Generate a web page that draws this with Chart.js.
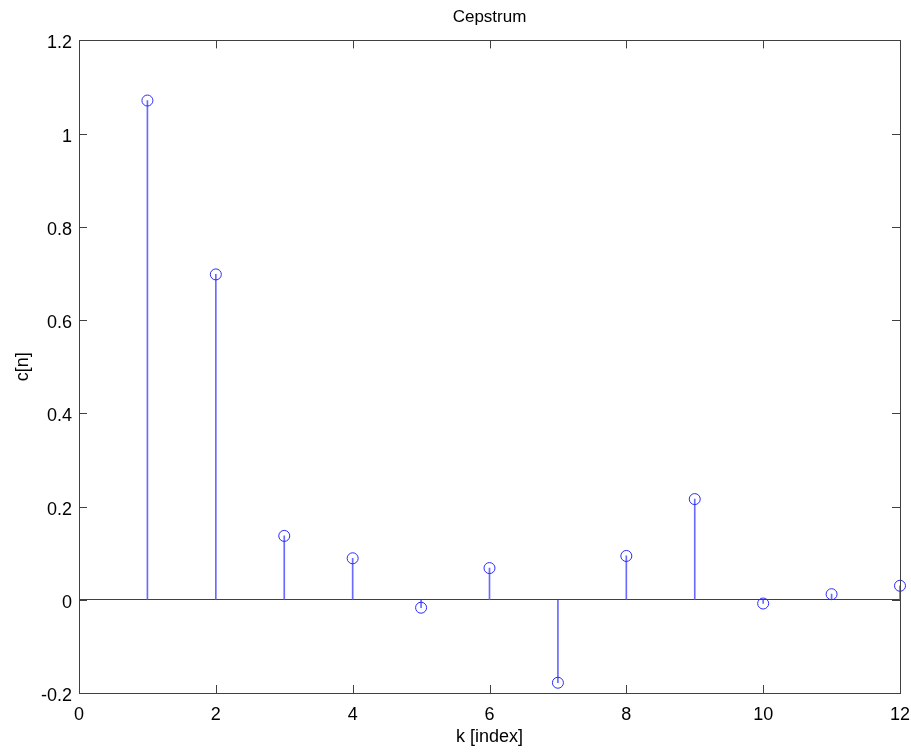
<!DOCTYPE html>
<html>
<head>
<meta charset="utf-8">
<title>Cepstrum</title>
<script src="https://cdn.jsdelivr.net/npm/chart.js@4/dist/chart.umd.min.js"></script>
<style>
  html, body { margin: 0; padding: 0; background: #fff; }
  #wrap { width: 911px; height: 754px; }
</style>
</head>
<body>
<div id="wrap"><canvas id="myChart1" width="911" height="754"></canvas></div>
<script>
// stem values
const k_index = [1, 2, 3, 4, 5, 6, 7, 8, 9, 10, 11, 12];
const c_values = [1.071, 0.698, 0.137, 0.089, -0.017, 0.068, -0.178, 0.094, 0.216, -0.008, 0.012, 0.030];
const x_ticks = [0, 2, 4, 6, 8, 10, 12];
const y_ticks = [-0.2, 0, 0.2, 0.4, 0.6, 0.8, 1, 1.2];

const axisColor = '#404040';
const font = 'Liberation Sans, Arial, Helvetica, sans-serif';

let points = [];
k_index.forEach((k, i) => {
    points.push({x: k, y: c_values[i]});
});

// matlab style box with inward ticks on all four sides
const boxTicks = {
    id: 'boxTicks',
    afterDatasetsDraw(chart) {
        const {ctx, chartArea: a, scales} = chart;
        const len = 8;
        ctx.save();
        ctx.strokeStyle = axisColor;
        ctx.lineWidth = 1;
        ctx.beginPath();
        x_ticks.forEach(v => {
            const px = Math.round(scales.x.getPixelForValue(v)) + 0.5;
            ctx.moveTo(px, a.bottom); ctx.lineTo(px, a.bottom - len);
            ctx.moveTo(px, a.top); ctx.lineTo(px, a.top + len);
        });
        y_ticks.forEach(v => {
            const py = Math.round(scales.y.getPixelForValue(v)) + 0.5;
            ctx.moveTo(a.left, py); ctx.lineTo(a.left + len, py);
            ctx.moveTo(a.right, py); ctx.lineTo(a.right - len, py);
        });
        ctx.stroke();
        ctx.strokeRect(Math.round(a.left) + 0.5, Math.round(a.top) + 0.5,
            Math.round(a.right - a.left), Math.round(a.bottom - a.top));
        ctx.restore();
    }
};

var ctx = document.getElementById('myChart1').getContext('2d');
var cep_chart = new Chart(ctx, {
    data: {
        datasets: [
            {
                type: 'scatter',
                data: points,
                showLine: false,
                clip: false,
                pointStyle: 'circle',
                pointRadius: 5.5,
                pointHoverRadius: 5.5,
                pointBorderWidth: 1,
                pointBorderColor: '#2a2aff',
                pointBackgroundColor: 'rgba(0,0,0,0)',
                order: 0
            },
            {
                type: 'bar',
                data: points,
                barThickness: 1,
                backgroundColor: '#6a6aff',
                borderWidth: 0,
                order: 1
            }
        ]
    },
    options: {
        responsive: false,
        animation: false,
        events: [],
        layout: { padding: 0 },
        plugins: {
            legend: { display: false },
            tooltip: { enabled: false },
            title: {
                display: true,
                text: 'Cepstrum',
                fullSize: false,
                color: '#000',
                font: { family: font, size: 17, weight: 'normal' },
                padding: { top: 7, bottom: 13 }
            }
        },
        scales: {
            x: {
                type: 'linear',
                min: 0,
                max: 12,
                offset: false,
                afterBuildTicks: scale => { scale.ticks = x_ticks.map(v => ({value: v})); },
                afterFit: scale => {
                    scale.height = 61;
                    scale.paddingLeft = 0;
                    scale.paddingRight = 11;
                },
                grid: { display: false, drawTicks: false, offset: false },
                border: { display: false },
                ticks: {
                    color: '#000',
                    padding: 11,
                    maxRotation: 0,
                    font: { family: font, size: 18 }
                },
                title: {
                    display: true,
                    text: 'k [index]',
                    color: '#000',
                    font: { family: font, size: 18 },
                    padding: { top: 0, bottom: 6 }
                }
            },
            y: {
                type: 'linear',
                min: -0.2,
                max: 1.2,
                afterBuildTicks: scale => { scale.ticks = y_ticks.map(v => ({value: v})); },
                afterFit: scale => { scale.width = 79; },
                grid: {
                    drawTicks: false,
                    color: c => (c.tick && c.tick.value === 0) ? axisColor : 'rgba(0,0,0,0)',
                    lineWidth: 1
                },
                border: { display: false },
                ticks: {
                    color: '#000',
                    padding: 7,
                    labelOffset: 3,
                    font: { family: font, size: 18 },
                    callback: v => String(Math.round(v * 10) / 10)
                },
                title: {
                    display: true,
                    text: 'c[n]',
                    color: '#000',
                    font: { family: font, size: 18 },
                    padding: { top: 12, bottom: 0 }
                }
            }
        }
    },
    plugins: [boxTicks]
});
</script>
</body>
</html>
